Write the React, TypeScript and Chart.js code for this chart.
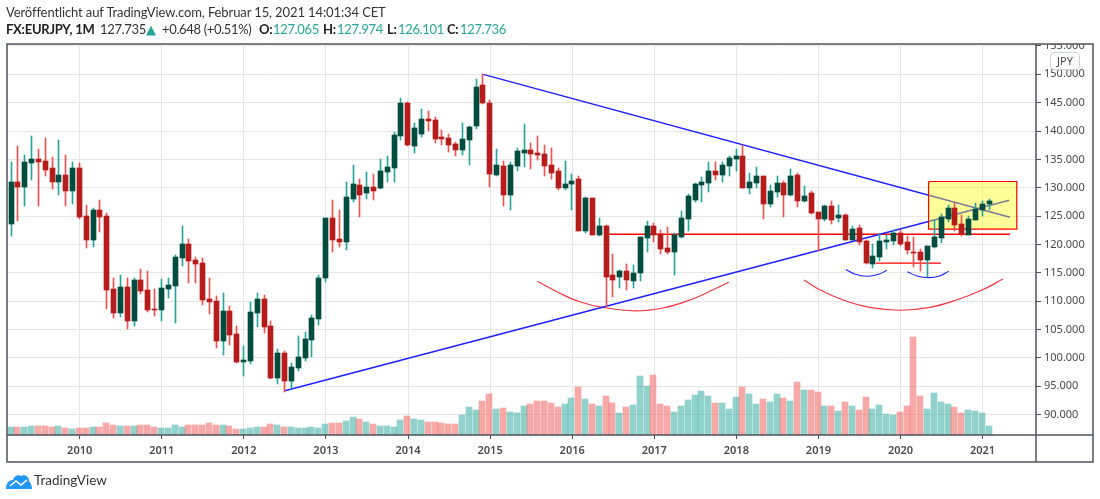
import { useEffect, useRef } from 'react';
import { Chart, registerables } from 'chart.js';

Chart.register(...registerables);

// Monthly EURJPY candles, March 2009 to February 2021
const opens = [
  123.54, 131.1, 130.2, 134.45, 135.15, 134.8, 133.4, 131.1, 132.3, 129.5, 133.4, 125.1,
  120.8, 126.1, 125.1, 112.2, 107.9, 112.5, 106.5, 113.75, 112.0, 108.7, 108.4, 112.15,
  112.7, 117.6, 120.1, 117.3, 116.7, 110.4, 110.0, 103.0, 108.2, 104.2, 99.2, 99.4,
  107.9, 110.4, 105.66, 96.46, 100.9, 95.9, 98.2, 100.0, 103.2, 106.9, 114.0, 124.6,
  120.9, 120.5, 128.1, 130.4, 129.0, 130.2, 129.9, 132.7, 133.4, 139.1, 145.0, 137.3,
  139.4, 142.1, 141.9, 138.9, 138.7, 137.7, 136.6, 138.4, 140.85, 148.1, 145.0, 132.2,
  133.8, 128.65, 133.8, 136.1, 136.6, 136.1, 135.95, 134.0, 132.9, 129.9, 130.6, 131.5,
  122.3, 128.15, 121.6, 123.2, 114.55, 114.2, 115.4, 113.5, 114.9, 121.1, 123.2, 121.8,
  119.3, 118.6, 121.25, 124.45, 127.8, 130.45, 130.8, 132.9, 132.2, 133.8, 135.05, 135.6,
  129.9, 130.8, 132.05, 127.1, 129.2, 130.8, 128.7, 132.2, 127.7, 129.1, 125.75, 124.5,
  126.8, 124.7, 125.2, 120.8, 122.9, 120.6, 116.55, 117.8, 120.45, 120.6, 122.0, 120.45,
  118.7, 118.7, 117.25, 119.55, 121.15, 124.5, 126.45, 123.6, 121.7, 124.3, 126.1, 127.065,
];
const highs = [
  134.5, 137.45, 135.7, 139.2, 136.9, 138.7, 135.5, 138.5, 135.7, 134.6, 134.45, 127.0,
  126.5, 127.9, 125.5, 114.0, 114.6, 114.0, 114.1, 115.7, 115.35, 112.15, 113.9, 114.1,
  118.15, 123.3, 121.0, 117.8, 117.6, 114.0, 110.9, 111.4, 109.1, 105.6, 102.1, 109.85,
  111.4, 111.05, 106.5, 101.6, 101.2, 99.1, 103.9, 104.6, 107.6, 114.7, 124.6, 127.8,
  126.0, 131.1, 134.0, 131.5, 132.7, 132.5, 135.0, 135.55, 139.8, 145.8, 145.2, 141.4,
  143.9, 143.5, 142.45, 140.15, 139.45, 138.0, 141.4, 140.85, 149.2, 150.0, 145.4, 136.8,
  134.7, 134.5, 137.0, 141.2, 137.85, 139.1, 137.5, 137.0, 133.5, 134.7, 132.4, 132.05,
  128.35, 128.15, 124.6, 123.4, 118.4, 115.5, 116.5, 116.3, 121.4, 124.1, 123.75, 122.5,
  123.0, 122.0, 125.85, 128.85, 130.8, 131.9, 134.5, 134.5, 134.5, 135.6, 136.8, 137.5,
  132.6, 133.65, 132.05, 130.45, 132.05, 131.15, 133.3, 132.6, 130.35, 129.5, 125.75, 127.0,
  127.7, 127.0, 125.4, 123.3, 123.45, 120.8, 120.1, 121.85, 121.7, 122.6, 122.55, 121.5,
  121.3, 119.2, 119.75, 124.3, 125.4, 127.0, 127.35, 125.2, 125.05, 127.35, 127.7, 127.974,
];
const lows = [
  121.5, 124.2, 126.8, 131.3, 126.8, 132.0, 129.7, 128.8, 126.7, 127.2, 124.5, 119.4,
  119.6, 122.2, 108.6, 107.0, 107.2, 105.1, 105.6, 111.3, 108.1, 107.4, 106.5, 110.6,
  106.1, 116.2, 113.2, 113.2, 109.3, 107.7, 101.75, 100.5, 102.3, 99.05, 96.85, 98.9,
  105.4, 104.4, 96.2, 95.4, 94.0, 94.7, 97.7, 99.5, 100.2, 105.8, 113.4, 118.6,
  119.6, 119.0, 127.4, 124.8, 127.95, 127.8, 129.7, 131.0, 131.1, 138.4, 137.4, 136.1,
  139.0, 140.0, 137.85, 137.5, 136.25, 135.55, 135.75, 134.0, 140.3, 144.75, 130.1, 132.0,
  126.7, 126.0, 132.9, 133.6, 133.25, 134.85, 132.05, 131.5, 129.6, 129.6, 126.0, 122.3,
  122.0, 121.6, 121.45, 109.05, 110.65, 112.25, 111.9, 112.4, 113.5, 118.6, 120.4, 118.25,
  118.4, 114.7, 121.1, 122.3, 127.45, 127.45, 129.2, 131.35, 131.0, 132.05, 132.9, 129.9,
  128.85, 129.9, 124.45, 126.55, 128.35, 124.8, 128.5, 126.55, 127.45, 125.4, 118.85, 124.2,
  123.6, 124.0, 120.8, 120.8, 119.9, 116.55, 115.85, 117.1, 119.2, 119.9, 119.75, 118.3,
  116.0, 115.3, 114.25, 119.4, 120.3, 124.0, 122.4, 121.5, 121.7, 124.3, 125.05, 126.101,
];
const closes = [
  131.08, 130.2, 134.6, 135.15, 134.6, 133.2, 131.1, 132.3, 129.5, 133.4, 124.9, 120.8,
  126.1, 124.9, 112.0, 107.9, 112.5, 106.5, 113.75, 111.8, 108.4, 108.4, 112.3, 112.85,
  117.8, 120.1, 117.1, 116.6, 110.2, 109.85, 103.0, 108.2, 104.0, 99.2, 99.6, 108.1,
  110.4, 105.4, 96.46, 100.9, 95.9, 98.4, 100.2, 103.4, 107.1, 114.15, 124.6, 120.7,
  120.5, 128.3, 130.6, 128.8, 130.2, 129.5, 132.9, 133.6, 139.3, 145.0, 137.5, 140.5,
  142.1, 141.75, 138.55, 138.55, 137.5, 136.6, 138.55, 140.7, 147.8, 144.9, 132.4, 134.0,
  128.65, 134.0, 136.45, 136.6, 135.9, 135.7, 133.8, 132.6, 129.9, 130.6, 131.2, 122.3,
  128.15, 121.6, 123.2, 114.35, 113.8, 115.4, 113.65, 115.05, 121.25, 123.2, 121.6, 119.15,
  118.6, 121.6, 124.6, 128.5, 130.6, 131.0, 132.9, 132.2, 134.0, 135.25, 135.6, 129.9,
  131.0, 132.05, 127.1, 129.4, 130.8, 128.7, 132.05, 127.6, 128.6, 125.6, 124.5, 126.8,
  124.35, 125.2, 120.8, 122.75, 120.45, 116.75, 118.0, 120.6, 120.8, 122.0, 120.1, 119.05,
  118.5, 117.25, 119.75, 121.3, 124.85, 126.45, 123.45, 121.85, 124.5, 126.3, 127.2, 127.736,
];
const volumes = [
  8.5, 8.5, 8.5, 9.5, 9.5, 9.5, 8.5, 9.5, 7.5, 6.5, 7.5, 7.5,
  8.5, 8.5, 12.5, 10.5, 9.5, 9.5, 9.5, 10.5, 10.5, 8.5, 7.5, 7.5,
  10.5, 8.5, 10.5, 10.5, 10.5, 12.5, 10.5, 10.5, 9.5, 6.5, 6.5, 7.5,
  8.5, 8.5, 11.5, 10.5, 8.5, 8.5, 7.5, 7.5, 8.5, 7.5, 11.5, 12.5,
  12.5, 14.5, 18.5, 16.5, 13.5, 11.5, 9.5, 9.5, 8.5, 15.5, 19.5, 16.5,
  15.5, 13.5, 13.5, 12.5, 11.5, 11.5, 20.5, 28.5, 25.5, 34.5, 41.5, 26.5,
  27.5, 23.5, 22.5, 29.5, 31.5, 34.5, 34.5, 32.5, 28.3, 31.3, 37.3, 48.3,
  36.3, 31.3, 29.3, 39.3, 32.3, 22.3, 28.3, 30.3, 59.3, 49.3, 60.3, 31.3,
  29.3, 23.3, 29.3, 35.3, 40.3, 44.3, 39.3, 32.3, 32.3, 26.3, 38.3, 48.3,
  41.3, 31.3, 36.3, 33.3, 41.3, 37.3, 34.3, 53.3, 45.3, 45.3, 43.3, 29.3,
  29.3, 24.3, 33.3, 29.3, 25.3, 38.3, 26.3, 30.3, 21.3, 20.3, 23.3, 29.3,
  98.3, 39.3, 26.3, 42.3, 33.3, 31.3, 28.3, 22.3, 25.3, 24.3, 22.3, 9.3,
];

const priceTicks = [90, 95, 100, 105, 110, 115, 120, 125, 130, 135, 140, 145, 150, 155];
const yearLabels = ['2010', '2011', '2012', '2013', '2014', '2015', '2016', '2017', '2018', '2019', '2020', '2021'];
const yearTicks = [10, 22, 34, 46, 58, 70, 82, 94, 106, 118, 130, 142];

// Drawings, in month index / price
const fallingLine = [{ x: 69, y: 150 }, { x: 146, y: 124.8 }];
const risingLine = [{ x: 40, y: 94.2 }, { x: 145.9, y: 127.8 }];
const neckLine = [{ x: 87, y: 121.8 }, { x: 146, y: 121.8 }];
const lowLine = [{ x: 126.4, y: 116.7 }, { x: 135.9, y: 116.7 }];
const leftArc = [
  { x: 76.9, y: 113.5 }, { x: 80.2, y: 111.4 }, { x: 83.1, y: 109.9 }, { x: 86.5, y: 108.9 }, { x: 91.2, y: 108.3 },
  { x: 95.3, y: 108.8 }, { x: 99.2, y: 110.2 }, { x: 102.6, y: 112 }, { x: 104.9, y: 113.35 },
];
const rightArc = [
  { x: 115.9, y: 113.75 }, { x: 118.2, y: 112 }, { x: 121.6, y: 110.2 }, { x: 125.5, y: 108.9 }, { x: 130, y: 108.4 },
  { x: 134.3, y: 108.9 }, { x: 138.2, y: 110.2 }, { x: 142, y: 112 }, { x: 144.97, y: 113.9 },
];
const smallArcA = [{ x: 122, y: 115.6 }, { x: 123.3, y: 114.8 }, { x: 125.1, y: 114.4 }, { x: 126.8, y: 114.75 }, { x: 128, y: 115.45 }];
const smallArcB = [{ x: 131, y: 115.2 }, { x: 132.4, y: 114.45 }, { x: 134.1, y: 114.15 }, { x: 135.8, y: 114.5 }, { x: 137.05, y: 115.3 }];
const yellowBox = [{ x: 134.1, y: 131.1 }, { x: 147, y: 131.1 }, { x: 147, y: 122.7 }, { x: 134.1, y: 122.7 }, { x: 134.1, y: 131.1 }];

const TEXT = '#4a4a4a';
const FRAME = '#50535e';
const FONT = '"Noto Sans", sans-serif';

// the snapshot's bars sit on whole pixels, so snap them after the scales placed them
const snapPlugin = {
  id: 'snap',
  beforeDatasetsDraw(chart: Chart) {
    chart.getSortedVisibleDatasetMetas().forEach((meta: any) => {
      if (meta.type !== 'bar') return;
      meta.data.forEach((bar: any) => {
        const center = Math.floor(bar.x - 0.3);
        bar.x = meta.yAxisID === 'vol' ? center : center + 0.5;
        bar.y = Math.round(bar.y);
        bar.base = Math.round(bar.base);
      });
    });
  },
};

// outer frame of the TradingView snapshot, axis strip lines included
const framePlugin = {
  id: 'frame',
  afterDraw(chart: Chart) {
    const { ctx, chartArea } = chart;
    ctx.save();
    ctx.fillStyle = '#ffffff';
    ctx.fillRect(chartArea.right, 0, 64, chartArea.top);
    ctx.strokeStyle = FRAME;
    ctx.lineWidth = 1.5;
    ctx.strokeRect(chartArea.left, chartArea.top, 1086, 418);
    ctx.beginPath();
    ctx.moveTo(chartArea.right, chartArea.top);
    ctx.lineTo(chartArea.right, chartArea.top + 418);
    ctx.moveTo(chartArea.left, chartArea.bottom);
    ctx.lineTo(chartArea.left + 1086, chartArea.bottom);
    ctx.stroke();
    ctx.restore();
  },
};

function drawing(data: { x: number; y: number }[], color: string, width: number, curved = false) {
  return {
    type: 'line' as const,
    data,
    borderColor: color,
    borderWidth: width,
    pointRadius: 0,
    tension: curved ? 0.4 : 0,
    order: 4,
  };
}

function CandleChart() {
  const canvasRef = useRef<HTMLCanvasElement>(null);

  useEffect(() => {
    if (!canvasRef.current) return;
    const months = closes.map((_, i) => i);
    const up = months.map((i) => closes[i] >= opens[i]);

    const chart = new Chart(canvasRef.current, {
      data: {
        datasets: [
          {
            type: 'bar',
            data: months.map((i) => ({ x: i, y: volumes[i] })),
            yAxisID: 'vol',
            backgroundColor: up.map((u) => (u ? 'rgba(38,166,154,0.5)' : 'rgba(239,83,80,0.5)')),
            barThickness: 6,
            grouped: false,
            order: 5,
          },
          drawing(fallingLine, '#2020ff', 1.4),
          drawing(risingLine, '#2020ff', 1.4),
          drawing(neckLine, '#ff0000', 1.3),
          drawing(lowLine, '#ff0000', 1.2),
          drawing(leftArc, '#f23645', 1.2, true),
          drawing(rightArc, '#f23645', 1.2, true),
          drawing(smallArcA, '#2020ff', 1.1, true),
          drawing(smallArcB, '#2020ff', 1.1, true),
          {
            type: 'line',
            data: yellowBox,
            borderColor: '#ff0000',
            borderWidth: 1.2,
            backgroundColor: 'rgba(255,255,0,0.4)',
            fill: 'shape',
            pointRadius: 0,
            order: 3,
          },
          {
            type: 'bar',
            data: months.map((i) => ({ x: i, y: [lows[i], highs[i]] })),
            backgroundColor: up.map((u) => (u ? '#26a69a' : '#ef5350')),
            barThickness: 1,
            grouped: false,
            order: 2,
          },
          {
            type: 'bar',
            data: months.map((i) => ({ x: i, y: [opens[i], closes[i]] })),
            backgroundColor: up.map((u) => (u ? '#004d40' : '#b71c1c')),
            barThickness: 5,
            minBarLength: 1,
            grouped: false,
            order: 1,
          },
        ],
      } as any,
      options: {
        responsive: false,
        animation: false,
        layout: { padding: { left: 7, right: 7, top: 44, bottom: 37 } },
        plugins: { legend: { display: false }, tooltip: { enabled: false } },
        scales: {
          x: {
            type: 'linear',
            min: -0.63,
            max: 149.81,
            offset: false,
            afterBuildTicks: (axis: any) => {
              axis.ticks = yearTicks.map((value) => ({ value }));
            },
            afterFit: (axis: any) => {
              axis.height = 27;
            },
            grid: { offset: false, color: '#e6e6e6', tickColor: FRAME, tickLength: 4 },
            border: { display: false },
            ticks: {
              autoSkip: false,
              maxRotation: 0,
              padding: 5,
              color: TEXT,
              font: { family: FONT, size: 11, weight: 600 },
              callback: (value: any) => yearLabels[yearTicks.indexOf(Number(value))],
            },
          },
          y: {
            position: 'right',
            min: 86.4,
            max: 155.35,
            afterBuildTicks: (axis: any) => {
              axis.ticks = priceTicks.map((value) => ({ value }));
            },
            afterFit: (axis: any) => {
              axis.width = 57;
            },
            grid: { color: '#e6e6e6', tickColor: FRAME, tickLength: 5 },
            border: { display: false },
            ticks: {
              padding: 3,
              color: TEXT,
              font: { family: FONT, size: 11 },
              callback: (value: any) => Number(value).toFixed(3),
            },
          },
          vol: { display: false, min: 0, max: 391 },
        },
      } as any,
      plugins: [snapPlugin, framePlugin],
    });

    return () => chart.destroy();
  }, []);

  return <canvas ref={canvasRef} width={1100} height={499} style={{ display: 'block' }} />;
}

const at = (left: number, top: number): React.CSSProperties => ({ position: 'absolute', left, top, whiteSpace: 'nowrap' });
const TEAL = '#26a69a';

export default function App() {
  useEffect(() => {
    document.body.style.margin = '0';
  }, []);

  const page: React.CSSProperties = { position: 'absolute', left: 0, top: 0, width: 1100, height: 499, fontFamily: 'Lato, sans-serif', fontSize: 13, lineHeight: '17px', color: '#333', background: '#fff', overflow: 'hidden' };
  const bold: React.CSSProperties = { fontWeight: 700, color: '#222', letterSpacing: -0.25 };
  const num: React.CSSProperties = { letterSpacing: -0.35 };

  return (
    <div style={page}>
      <CandleChart />
      <span style={{ ...at(6, 4), letterSpacing: -0.11 }}>Veröffentlicht auf TradingView.com, Februar 15, 2021 14:01:34 CET</span>
      <span style={{ ...at(6, 21), ...bold }}>FX:EURJPY, 1M</span>
      <span style={{ ...at(100, 21), ...num }}>127.735</span>
      <span style={{ ...at(146, 21), color: TEAL, fontFamily: '"DejaVu Sans"', fontSize: 13 }}>▲</span>
      <span style={{ ...at(162, 21), ...num }}>+0.648 (+0.51%)</span>
      <span style={{ ...at(259, 21), ...bold }}>O:</span>
      <span style={{ ...at(273, 21), ...num, color: TEAL }}>127.065</span>
      <span style={{ ...at(323, 21), ...bold }}>H:</span>
      <span style={{ ...at(337, 21), ...num, color: TEAL }}>127.974</span>
      <span style={{ ...at(387, 21), ...bold }}>L:</span>
      <span style={{ ...at(398, 21), ...num, color: TEAL }}>126.101</span>
      <span style={{ ...at(447, 21), ...bold }}>C:</span>
      <span style={{ ...at(460, 21), ...num, color: TEAL }}>127.736</span>
      <span style={{ ...at(1050, 52), width: 28, height: 16, lineHeight: '16px', textAlign: 'center', border: '1px solid #cfd2da', borderRadius: 4, fontFamily: FONT, fontSize: 11, color: TEXT }}>JPY</span>
      <svg style={{ position: 'absolute', left: 6, top: 473 }} width={26} height={16} viewBox="0 0 26 16">
        <path d="M0 16 C0 10 3 7 7 7 C8 3 12 1 15 3 C18 1 23 3 23 8 C25 10 26 13 26 16 Z" fill="#2196f3" />
        <path d="M4 13 L10 8 L15 12 L21 7" fill="none" stroke="#fff" strokeWidth={1.6} />
      </svg>
      <span style={{ ...at(34, 472), fontSize: 13.5, color: '#333' }}>TradingView</span>
    </div>
  );
}
